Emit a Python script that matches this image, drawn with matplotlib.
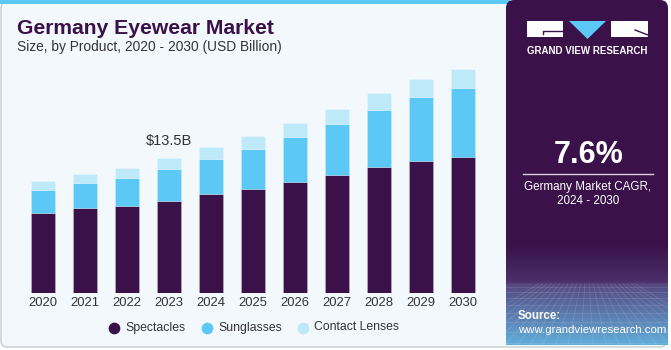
import matplotlib.pyplot as plt
import numpy as np
from matplotlib.patches import FancyBboxPatch, Rectangle, Polygon

plt.rcParams["font.family"] = ["Liberation Sans", "DejaVu Sans"]

# data
years = ["2020", "2021", "2022", "2023", "2024", "2025", "2026", "2027", "2028", "2029", "2030"]
spectacles = [8.03, 8.47, 8.70, 9.21, 9.94, 10.41, 11.12, 11.82, 12.66, 13.26, 13.60]
sunglasses = [2.28, 2.55, 2.85, 3.19, 3.49, 4.02, 4.53, 5.13, 5.70, 6.44, 6.98]
contact_lenses = [0.94, 0.87, 1.01, 1.11, 1.18, 1.31, 1.44, 1.51, 1.68, 1.78, 1.95]
series_names = ["Spectacles", "Sunglasses", "Contact Lenses"]
colors = ["#3a1249", "#5bc8f5", "#bde9f9"]

W, H = 671, 350
fig = plt.figure(figsize=(W / 100, H / 100), dpi=100)
fig.patch.set_facecolor("white")

# background layer in pixel coords
bg = fig.add_axes([0, 0, 1, 1])
bg.set_xlim(0, W)
bg.set_ylim(H, 0)
bg.axis("off")

bg.add_patch(FancyBboxPatch((1, 2), 665, 345, boxstyle="round,pad=0,rounding_size=6",
                            fc="#f3f8fc", ec="#c8ccd0", lw=1))
bg.add_patch(Rectangle((0, 0), 510, 4, fc="#5bc8f5", ec="none"))

# right panel
purple = "#3a1249"
bg.add_patch(FancyBboxPatch((506, 0), 162, 345, boxstyle="round,pad=0,rounding_size=8",
                            fc=purple, ec="none"))
yy = np.linspace(245, 345, 200)
stops_y = [245, 282, 284, 345]
stops = np.array([[0x3a, 0x12, 0x49], [0x4c, 0x30, 0x6a], [0x55, 0x48, 0x80], [0x62, 0xae, 0xdc]]) / 255
grad = np.stack([np.interp(yy, stops_y, stops[:, i]) for i in range(3)], axis=-1)[:, None, :]
bg.imshow(grad, extent=[506, 668, 345, 245], aspect="auto", zorder=1)
for y0 in [287, 292, 298, 305, 313, 322, 332, 343]:
    bg.plot([506, 668], [y0, y0], color="white", alpha=0.15, lw=0.5, zorder=2)
for xx in np.linspace(506, 668, 24):
    bg.plot([587 + (xx - 587) * 0.6, 587 + (xx - 587) * 1.8], [284, 345], color="white",
            alpha=0.15, lw=0.5, zorder=2)

# logo
bg.add_patch(Rectangle((527, 21), 36, 16, fc="white", ec="none", zorder=3))
bg.add_patch(Polygon([(569, 21), (606, 21), (587.5, 39)], fc="#5bc8f5", ec="none", zorder=3))
bg.add_patch(Rectangle((611, 21), 37, 16, fc="white", ec="none", zorder=3))
bg.plot([543, 543, 563], [34, 31, 31], color=purple, lw=1, zorder=4)
bg.plot([635, 648], [30, 35], color=purple, lw=1, zorder=4)
bg.text(587, 51, "GRAND VIEW RESEARCH", color="white", fontsize=7, fontweight="bold",
        ha="center", va="center", zorder=4)

bg.text(589, 155, "7.6%", color="white", fontsize=22, fontweight="bold",
        ha="center", va="center", zorder=4)
bg.plot([523, 653], [173.5, 173.5], color="#d8d0e0", lw=1, zorder=4)
bg.text(588, 187, "Germany Market CAGR,", color="white", fontsize=8.4,
        ha="center", va="center", zorder=4)
bg.text(588, 201, "2024 - 2030", color="white", fontsize=8.4,
        ha="center", va="center", zorder=4)
bg.text(518, 316, "Source:", color="white", fontsize=8.3, fontweight="bold",
        ha="left", va="center", zorder=4)
bg.text(518, 330, "www.grandviewresearch.com", color="white", fontsize=8.2,
        ha="left", va="center", zorder=4)

# titles
bg.text(17, 29, "Germany Eyewear Market", color=purple, fontsize=15.2, fontweight="bold",
        ha="left", va="center")
bg.text(17, 47, "Size, by Product, 2020 - 2030 (USD Billion)", color="#333333", fontsize=9.9,
        ha="left", va="center")

# legend
lx = [114, 207, 303]
for x0, name, c in zip(lx, series_names, colors):
    bg.scatter([x0], [327.5], s=55, color=c, zorder=3)
    bg.text(x0 + 11, 327.5, name, color="#333333", fontsize=8.8, ha="left", va="center")

# bar chart
ax = fig.add_axes([22 / W, (H - 292.5) / H, 462 / W, 252.5 / H])
ax.set_facecolor("none")
x = np.arange(len(years))
spec = np.array(spectacles)
sun = np.array(sunglasses)
con = np.array(contact_lenses)
bw = 0.57
ax.bar(x, spec, bw, color=colors[0], edgecolor=(1, 1, 1, 0.25), lw=0.6)
ax.bar(x, sun, bw, bottom=spec, color=colors[1], edgecolor=(1, 1, 1, 0.25), lw=0.6)
ax.bar(x, con, bw, bottom=spec + sun, color=colors[2], edgecolor=(1, 1, 1, 0.25), lw=0.6)
ax.set_xlim(-0.5, len(years) - 0.5)
ax.set_ylim(0, 25.4)
ax.set_xticks(x)
ax.set_xticklabels(years, fontsize=9.4, color="#333333")
ax.tick_params(axis="x", length=0, pad=3)
ax.set_yticks([])
for s in ax.spines.values():
    s.set_visible(False)
total_2023 = spec[3] + sun[3] + con[3]
ax.text(3, total_2023 + 1.0, f"${total_2023:.1f}B", ha="center", va="bottom",
        fontsize=10.5, color="#333333")

fig.savefig("out.png", dpi=100, facecolor=fig.get_facecolor())
